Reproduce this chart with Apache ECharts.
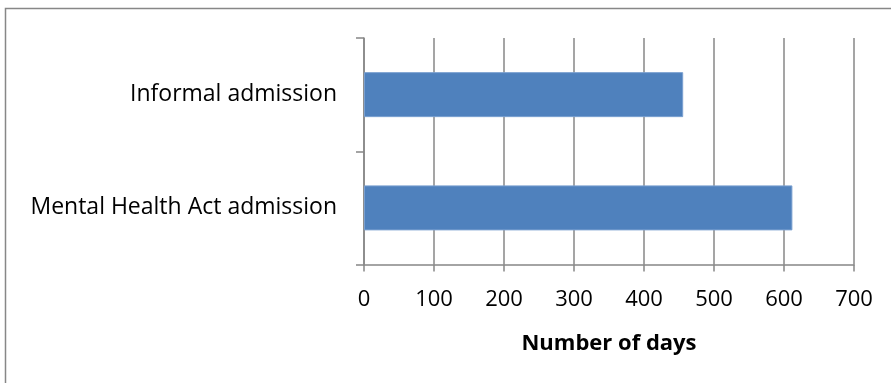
<!DOCTYPE html>
<html>
<head>
<meta charset="utf-8">
<script src="https://cdn.jsdelivr.net/npm/echarts@6/dist/echarts.min.js"></script>
<style>
  html, body { margin: 0; padding: 0; background: #fff; }
  #chart { width: 891px; height: 383px; }
</style>
</head>
<body>
<div id="chart"></div>
<script>
// Admission types, listed bottom to top
const categories = ['Mental Health Act admission', 'Informal admission'];
// Number of days for each admission type
const days = [612, 456];
const axisTitle = 'Number of days';

const chart = echarts.init(document.getElementById('chart'), null, { renderer: 'canvas' });
const lineColor = '#878787';
const font = '"Open Sans", "Liberation Sans", sans-serif';

chart.setOption({
  animation: false,
  backgroundColor: '#ffffff',
  graphic: [{
    type: 'rect',
    shape: { x: 5.5, y: 8.5, width: 900, height: 400 },
    style: { fill: 'none', stroke: lineColor, lineWidth: 1.5 },
    silent: true
  }],
  grid: { left: 364, right: 37, top: 38, bottom: 118.5, containLabel: false },
  xAxis: {
    type: 'value',
    min: 0,
    max: 700,
    interval: 100,
    name: axisTitle,
    nameLocation: 'middle',
    nameGap: 68,
    nameTextStyle: { color: '#000', fontFamily: font, fontWeight: 'bold', fontSize: 22 },
    axisLine: { show: true, lineStyle: { color: lineColor, width: 1.5 } },
    axisTick: { show: true, length: 7, lineStyle: { color: lineColor, width: 1.5 } },
    axisLabel: { color: '#000', fontFamily: font, fontSize: 22, margin: 24 },
    splitLine: { show: true, lineStyle: { color: lineColor, width: 1.5 } }
  },
  yAxis: {
    type: 'category',
    data: categories,
    axisLine: { show: true, lineStyle: { color: lineColor, width: 1.5 } },
    axisTick: { show: true, length: 8, alignWithLabel: false, lineStyle: { color: lineColor, width: 1.5 } },
    axisLabel: { color: '#000', fontFamily: font, fontSize: 23, margin: 27, padding: [5, 0, 0, 0] },
    splitLine: { show: false }
  },
  series: [{
    type: 'bar',
    data: days,
    barWidth: 45,
    itemStyle: { color: '#4F81BD', borderColor: '#7AA0D0', borderWidth: 1 },
    z: 3
  }]
});
</script>
</body>
</html>
